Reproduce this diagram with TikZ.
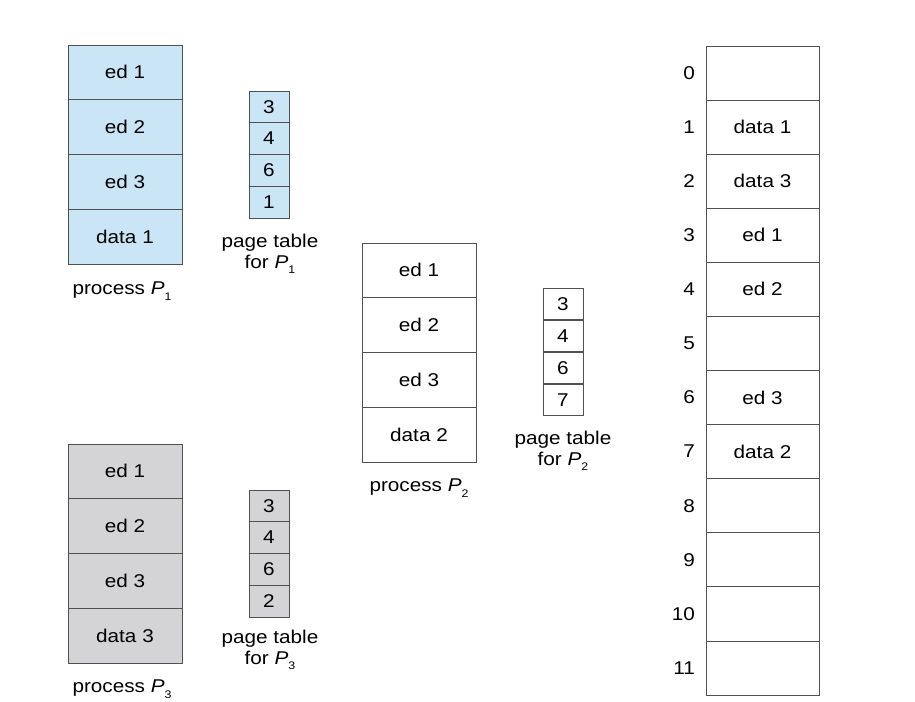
\documentclass[tikz,border=0pt]{standalone}
\usepackage{fontspec}
\setmainfont[FakeStretch=1.12]{Liberation Sans}
\definecolor{blu}{RGB}{202,230,246}
\definecolor{gry}{RGB}{212,212,214}
\definecolor{linec}{RGB}{80,80,80}
\newcommand{\Pn}[1]{\textit{P}\raisebox{-0.55ex}{\fontsize{11}{11}\selectfont #1}}
\begin{document}
\begin{tikzpicture}[x=1pt,y=-1pt,
  every node/.style={font=\fontsize{18.5}{22}\selectfont},
  pcell/.style={draw=linec, line width=0.7pt, minimum width=114pt, minimum height=54.75pt, inner sep=0pt, outer sep=0pt, anchor=north west},
  tcell/.style={draw=linec, line width=0.7pt, minimum width=40pt, minimum height=31.75pt, inner sep=0pt, outer sep=0pt, anchor=north west},
  mcell/.style={draw=linec, line width=0.7pt, minimum width=113pt, minimum height=54.08pt, inner sep=0pt, outer sep=0pt, anchor=north west},
  lbl/.style={inner sep=0pt, align=center}]
\useasboundingbox[fill=white] (0,0) rectangle (915,701);
% process P1
\foreach \t [count=\i from 0] in {ed 1,ed 2,ed 3,data 1}
  \node[pcell, fill=blu] (pa\i) at (68,45+\i*54.75) {\t};
\node[lbl] (pal) at (122,291) {process \Pn{1}};
\foreach \t [count=\i from 0] in {3,4,6,1}
  \node[tcell, fill=blu] (ta\i) at (249,91+\i*31.75) {\t};
\node[lbl] (tal) at (270,254) {page table\\[-1pt]for \Pn{1}};
% process P2
\foreach \t [count=\i from 0] in {ed 1,ed 2,ed 3,data 2}
  \node[pcell, fill=white] (pb\i) at (362,243+\i*54.75) {\t};
\node[lbl] (pbl) at (419,488) {process \Pn{2}};
\foreach \t [count=\i from 0] in {3,4,6,7}
  \node[tcell, fill=white] (tb\i) at (543,288+\i*32) {\t};
\node[lbl] (tbl) at (563,451) {page table\\[-1pt]for \Pn{2}};
% process P3
\foreach \t [count=\i from 0] in {ed 1,ed 2,ed 3,data 3}
  \node[pcell, fill=gry] (pc\i) at (68,444+\i*54.75) {\t};
\node[lbl] (pcl) at (122,689) {process \Pn{3}};
\foreach \t [count=\i from 0] in {3,4,6,2}
  \node[tcell, fill=gry] (tc\i) at (249,490+\i*31.75) {\t};
\node[lbl] (tcl) at (270,650) {page table\\[-1pt]for \Pn{3}};
% physical memory
\foreach \t [count=\i from 0] in {{},data 1,data 3,ed 1,ed 2,{},ed 3,data 2,{},{},{},{}}
  \node[mcell, fill=white] (m\i) at (706,46+\i*54.08) {\t};
\foreach \i in {0,...,11}
  \node[anchor=east, inner sep=0pt] (mn\i) at ([xshift=-11pt]m\i.west) {\i};
\end{tikzpicture}
\end{document}
